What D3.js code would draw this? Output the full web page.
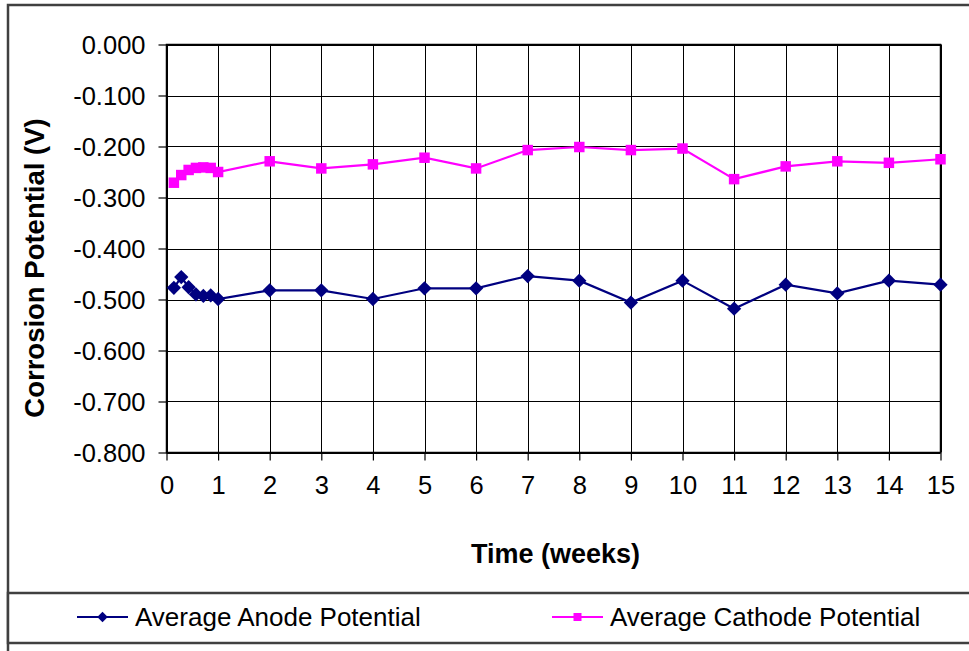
<!DOCTYPE html>
<html>
<head>
<meta charset="utf-8">
<script src="https://cdn.jsdelivr.net/npm/d3@7"></script>
<style>
  html, body { margin: 0; padding: 0; background: #fff; }
  svg { display: block; font-family: "Liberation Sans", Arial, sans-serif; }
</style>
</head>
<body>
<svg id="chart" width="969" height="651"></svg>
<script>
// ---- data ----
const weeks = [0.143, 0.286, 0.429, 0.571, 0.714, 0.857, 1, 2, 3, 4, 5, 6, 7, 8, 9, 10, 11, 12, 13, 14, 15];
const anodePotential = [-0.477, -0.456, -0.476, -0.490, -0.493, -0.492, -0.499,
  -0.482, -0.482, -0.499, -0.478, -0.478, -0.454, -0.463, -0.506, -0.463, -0.518, -0.471, -0.488, -0.463, -0.471];
const cathodePotential = [-0.271, -0.256, -0.246, -0.242, -0.241, -0.242, -0.250,
  -0.229, -0.243, -0.235, -0.222, -0.243, -0.207, -0.201, -0.207, -0.204, -0.264, -0.239, -0.229, -0.232, -0.225];
const xTicks = [0, 1, 2, 3, 4, 5, 6, 7, 8, 9, 10, 11, 12, 13, 14, 15];
const yTicks = [0, -0.1, -0.2, -0.3, -0.4, -0.5, -0.6, -0.7, -0.8];
const seriesNames = ["Average Anode Potential", "Average Cathode Potential"];
const seriesColors = ["#000080", "#FF00FF"];
const xTitle = "Time (weeks)";
const yTitle = "Corrosion Potential (V)";

(function () {
// ---- layout ----
const svg = d3.select("#chart");
const pL = 166.5, pR = 940.5, pT = 44.5, pB = 452.5;
const x = d3.scaleLinear().domain([0, 15]).range([pL, pR]);
const y = d3.scaleLinear().domain([-0.8, 0]).range([pB, pT]);

// outer frame
svg.append("rect").attr("x", 8).attr("y", 5).attr("width", 1000).attr("height", 700)
  .attr("fill", "#fff").attr("stroke", "#404040").attr("stroke-width", 2.5);

// gridlines
const grid = svg.append("g");
grid.selectAll("line.h").data(yTicks).join("line")
  .attr("x1", pL).attr("x2", pR)
  .attr("y1", d => Math.round(y(d)) + 0.5).attr("y2", d => Math.round(y(d)) + 0.5)
  .attr("stroke", "#000").attr("stroke-width", 1);
grid.selectAll("line.v").data(xTicks).join("line")
  .attr("y1", pT).attr("y2", pB)
  .attr("x1", d => Math.round(x(d)) + 0.5).attr("x2", d => Math.round(x(d)) + 0.5)
  .attr("stroke", "#000").attr("stroke-width", 1);

// plot border
svg.append("rect").attr("x", pL).attr("y", pT).attr("width", pR - pL).attr("height", pB - pT)
  .attr("fill", "none").attr("stroke", "#000").attr("stroke-width", 1.5);

// axes
const fmtY = d => d3.format(".3f")(d).replace("\u2212", "-");
const yAxis = d3.axisLeft(y).tickValues(yTicks).tickFormat(fmtY).tickSize(8).tickPadding(13);
const gy = svg.append("g").attr("transform", `translate(${pL},0)`).call(yAxis);
const xAxis = d3.axisBottom(x).tickValues(xTicks).tickFormat(d3.format("d")).tickSize(8).tickPadding(14);
const gx = svg.append("g").attr("transform", `translate(0,${pB})`).call(xAxis);
[gy, gx].forEach(g => {
  g.select(".domain").remove();
  g.selectAll(".tick line").attr("stroke", "#000").attr("stroke-width", 1.2);
  g.selectAll("text").attr("fill", "#000").style("font-size", "25.5px")
    .style("font-family", "'Liberation Sans', Arial, sans-serif");
});
gy.selectAll("text").attr("dy", "0.35em");
gx.selectAll("text").attr("dy", "0.75em");

// axis titles
svg.append("text").attr("x", (pL + pR) / 2 + 2).attr("y", 563)
  .attr("text-anchor", "middle").style("font-size", "27px").style("font-weight", "bold")
  .text(xTitle);
svg.append("text").attr("transform", "translate(44,268) rotate(-90)")
  .attr("text-anchor", "middle").style("font-size", "27.5px").style("font-weight", "bold")
  .text(yTitle);

// series
const series = [anodePotential, cathodePotential];
const line = d3.line().x((d, i) => x(weeks[i])).y(d => y(d));
const diamond = d3.symbol().type(d3.symbolDiamond2).size(130);
const square = d3.symbol().type(d3.symbolSquare).size(110);
const shapes = [diamond, square];

series.forEach((vals, si) => {
  svg.append("path").datum(vals).attr("d", line)
    .attr("fill", "none").attr("stroke", seriesColors[si]).attr("stroke-width", 2.2);
  svg.append("g").selectAll("path").data(vals).join("path")
    .attr("transform", (d, i) => `translate(${x(weeks[i])},${y(d)})`)
    .attr("d", shapes[si]()).attr("fill", seriesColors[si]);
});

// legend
svg.append("rect").attr("x", 8).attr("y", 593).attr("width", 1000).attr("height", 50)
  .attr("fill", "#fff").attr("stroke", "#404040").attr("stroke-width", 2.5);
const legendX = [77, 552];
seriesNames.forEach((name, si) => {
  const g = svg.append("g").attr("transform", `translate(${legendX[si]},617)`);
  g.append("line").attr("x1", 0).attr("x2", 51).attr("y1", 0).attr("y2", 0)
    .attr("stroke", seriesColors[si]).attr("stroke-width", 2.2);
  g.append("path").attr("transform", "translate(25.5,0)")
    .attr("d", si === 0 ? d3.symbol().type(d3.symbolDiamond2).size(70)() : d3.symbol().type(d3.symbolSquare).size(64)())
    .attr("fill", seriesColors[si]);
  g.append("text").attr("x", 58).attr("y", 8.5).style("font-size", "26px").attr("fill", "#000").text(name);
});
})();
</script>
</body>
</html>
